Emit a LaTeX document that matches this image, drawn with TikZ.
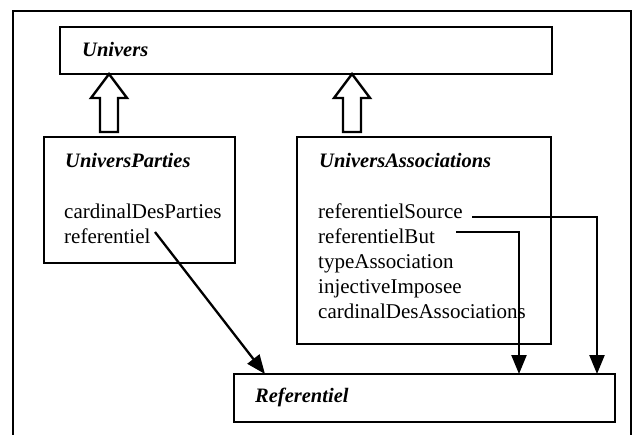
\documentclass[tikz,border=0pt]{standalone}
\usepackage{fontspec}
\setmainfont{Liberation Serif}
\usetikzlibrary{arrows.meta,calc}
\begin{document}
\begin{tikzpicture}[x=1pt,y=-1pt,
  box/.style={draw, line width=2.6pt, inner sep=0pt, outer sep=0pt, anchor=north west},
  title/.style={anchor=base west, inner sep=0pt, font=\fontsize{20.5}{24}\selectfont\bfseries\itshape},
  attr/.style={anchor=base west, inner sep=0pt, font=\fontsize{21}{25}\selectfont},
  link/.style={line width=2.3pt, -{Triangle[length=19pt,width=15pt]}},
  inherit/.style={draw, line width=2.4pt, line join=miter}]
\useasboundingbox (0,0) rectangle (634,434);
% outer frame (open at the bottom)
\draw[line width=2.6pt] (13,440) -- (13,11) -- (631,11) -- (631,440);

% classes
\node[box, minimum width=492pt, minimum height=47pt] (univers) at (60,27) {};
\node[title] (tunivers) at (82,56) {Univers};

\node[box, minimum width=191pt, minimum height=126pt] (parties) at (44,137) {};
\node[title] (tparties) at (65,167) {UniversParties};
\node[attr] (pcard) at (64,218) {cardinalDesParties};
\node[attr] (pref) at (64,243) {referentiel};

\node[box, minimum width=254pt, minimum height=207pt] (assoc) at (297,137) {};
\node[title] (tassoc) at (319,167) {UniversAssociations};
\node[attr] (asrc) at (318,218) {referentielSource};
\node[attr] (abut) at (318,243) {referentielBut};
\node[attr] (atype) at (318,268) {typeAssociation};
\node[attr] (ainj) at (318,293) {injectiveImposee};
\node[attr] (acard) at (318,318) {cardinalDesAssociations};

\node[box, minimum width=381pt, minimum height=48pt] (ref) at (234,374) {};
\node[title] (tref) at (255,402) {Referentiel};

% inheritance arrows
\draw[inherit] ($(univers.south west)+(49,0)$) coordinate (tip1)
  -- ++(18,24) -- ++(-9,0) -- ++(0,34) -- ++(-18,0) -- ++(0,-34) -- ++(-9,0) -- cycle;
\draw[inherit] ($(univers.south west)+(292,0)$) coordinate (tip2)
  -- ++(18,24) -- ++(-9,0) -- ++(0,34) -- ++(-18,0) -- ++(0,-34) -- ++(-9,0) -- cycle;

% references to Referentiel
\coordinate (srcStart) at (472,217);
\coordinate (butStart) at (456,232);
\coordinate (refStart) at (155,232);
\coordinate (srcEnd) at ($(ref.north west)+(363,0)$);
\coordinate (butEnd) at ($(ref.north west)+(285,0)$);
\coordinate (refEnd) at ($(ref.north west)+(31,0)$);
\draw[link] (srcStart) -| (srcEnd);
\draw[link] (butStart) -| (butEnd);
\draw[link] (refStart) -- (refEnd);
\end{tikzpicture}
\end{document}
